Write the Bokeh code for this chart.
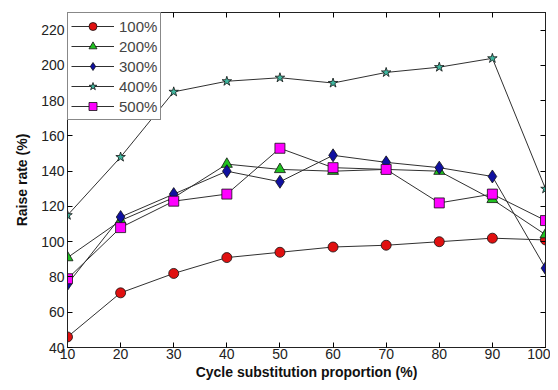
from bokeh.plotting import figure
from bokeh.models import LinearAxis, Range1d, FixedTicker, Legend, LegendItem
from bokeh.embed import file_html
from bokeh.resources import INLINE

x = [10, 20, 30, 40, 50, 60, 70, 80, 90, 100]
s100 = [46, 71, 82, 91, 94, 97, 98, 100, 102, 101]
s200 = [91, 112, 125, 144, 141, 140, 141, 140, 124, 104]
s300 = [76, 114, 127, 140, 134, 149, 145, 142, 137, 85]
s400 = [115, 148, 185, 191, 193, 190, 196, 199, 204, 130]
s500 = [79, 108, 123, 127, 153, 142, 141, 122, 127, 112]
labels = ["100%", "200%", "300%", "400%", "500%"]
xticks = [10, 20, 30, 40, 50, 60, 70, 80, 90, 100]
yticks = [40, 60, 80, 100, 120, 140, 160, 180, 200, 220]

p = figure(width=550, height=382, output_backend="svg", toolbar_location=None,
           x_range=Range1d(10, 100), y_range=Range1d(40, 230))
p.min_border_left = 67
p.min_border_right = 5
p.min_border_top = 12
p.min_border_bottom = 33
p.xgrid.visible = False
p.ygrid.visible = False
p.outline_line_color = "#222222"
p.outline_line_width = 1
p.background_fill_color = "white"

font = "Liberation Sans"
for ax in p.xaxis + p.yaxis:
    ax.major_tick_in = 5
    ax.major_tick_out = 0
    ax.minor_tick_in = 0
    ax.minor_tick_out = 0
    ax.axis_line_color = "#222222"
    ax.major_label_text_font = font
    ax.major_label_text_font_size = "14px"
    ax.major_label_text_color = "#222222"
    ax.axis_label_text_font = font
    ax.axis_label_text_font_size = "14px"
    ax.axis_label_text_font_style = "bold"
    ax.axis_label_text_color = "#111111"
p.xaxis.ticker = FixedTicker(ticks=xticks)
p.yaxis.ticker = FixedTicker(ticks=yticks)
p.xaxis.axis_label = "Cycle substitution proportion (%)"
p.yaxis.axis_label = "Raise rate (%)"
p.xaxis.major_label_standoff = 1
p.xaxis.axis_label_standoff = 2
p.yaxis.major_label_standoff = 3
p.yaxis.axis_label_standoff = 8

top = LinearAxis(ticker=FixedTicker(ticks=xticks), major_tick_in=5, major_tick_out=0,
                 minor_tick_in=0, minor_tick_out=0,
                 major_label_overrides={t: "" for t in xticks},
                 major_label_standoff=0, axis_line_color="#222222")
right = LinearAxis(ticker=FixedTicker(ticks=yticks), major_tick_in=5, major_tick_out=0,
                   minor_tick_in=0, minor_tick_out=0,
                   major_label_overrides={t: "" for t in yticks},
                   major_label_standoff=0, axis_line_color="#222222")
p.add_layout(top, "above")
p.add_layout(right, "right")

series = [s100, s200, s300, s400, s500]
markers = ["circle", "triangle", "diamond", "star", "square"]
fills = ["#e01010", "#20c020", "#1010a0", "#40b8a0", "#ff00ff"]
sizes = [10, 11, 13, 10, 10]
items = []
for ys, mk, fc, sz, lab in zip(series, markers, fills, sizes, labels):
    r1 = p.line(x, ys, line_color="#303030", line_width=1)
    r2 = p.scatter(x, ys, marker=mk, size=sz, fill_color=fc, line_color="#111111", line_width=0.8)
    items.append(LegendItem(label=lab, renderers=[r1, r2]))

leg = Legend(items=items, location="top_left")
leg.margin = 0
leg.padding = 3
leg.spacing = 0
leg.glyph_width = 43
leg.glyph_height = 20
leg.label_standoff = 5
leg.label_text_font = font
leg.label_text_font_size = "15px"
leg.label_height = 20
leg.border_line_color = "#111111"
leg.border_line_width = 1.5
leg.background_fill_alpha = 1
p.add_layout(leg, "center")

open("out.html", "w").write(file_html(p, INLINE))
